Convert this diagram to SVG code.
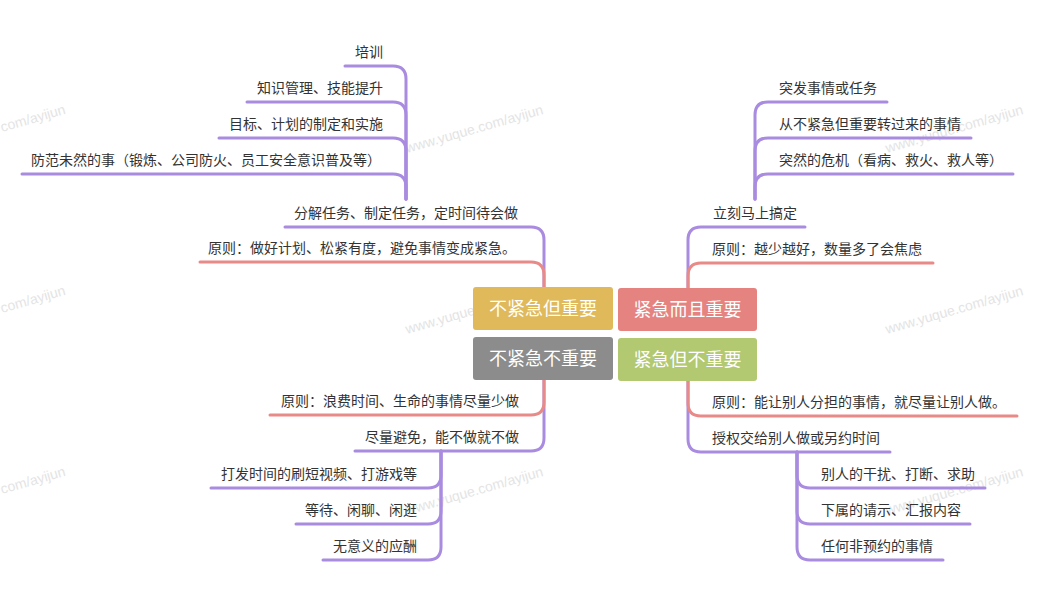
<svg xmlns="http://www.w3.org/2000/svg" width="1044" height="611" viewBox="0 0 1044 611">
<style>
.t{font-family:"Noto Sans CJK SC","Noto Sans",sans-serif;font-size:14px;fill:#333333}
.c{font-family:"Noto Sans CJK SC","Noto Sans",sans-serif;font-size:18px;fill:#ffffff;text-anchor:middle}
.w{font-family:"Liberation Sans",sans-serif;font-size:14px;fill:#d9d9d9;opacity:0.7}
.p{fill:none;stroke:#a98be0;stroke-width:3;stroke-linecap:round}
.r{fill:none;stroke:#e88a88;stroke-width:3;stroke-linecap:round}
</style>
<rect width="1044" height="611" fill="#ffffff"/>
<g id="watermarks">
<text class="w" x="2" y="132" transform="rotate(-16 2 132)">com/ayijun</text>
<text class="w" x="407" y="153" transform="rotate(-16 407 153)">www.yuque.com/ayijun</text>
<text class="w" x="887" y="153" transform="rotate(-16 887 153)">www.yuque.com/ayijun</text>
<text class="w" x="2" y="313" transform="rotate(-16 2 313)">com/ayijun</text>
<text class="w" x="407" y="334" transform="rotate(-16 407 334)">www.yuque.com/ayijun</text>
<text class="w" x="887" y="334" transform="rotate(-16 887 334)">www.yuque.com/ayijun</text>
<text class="w" x="2" y="494" transform="rotate(-16 2 494)">com/ayijun</text>
<text class="w" x="407" y="515" transform="rotate(-16 407 515)">www.yuque.com/ayijun</text>
<text class="w" x="887" y="515" transform="rotate(-16 887 515)">www.yuque.com/ayijun</text>
</g>
<g id="connectors">
<path class="p" d="M544 287V240Q544 227 531 227H285"/>
<path class="r" d="M544 287V275Q544 262 531 262H200"/>
<path class="p" d="M406 199V79Q406 66 393 66H345"/>
<path class="p" d="M406 199V115Q406 102 393 102H247"/>
<path class="p" d="M406 199V151Q406 138 393 138H219"/>
<path class="p" d="M406 199V187Q406 174 393 174H22"/>
<path class="p" d="M688 288V240Q688 227 701 227H805"/>
<path class="r" d="M688 288V276Q688 263 701 263H933"/>
<path class="p" d="M755 199V115Q755 102 768 102H887"/>
<path class="p" d="M755 199V151Q755 138 768 138H971"/>
<path class="p" d="M755 199V187Q755 174 768 174H1013"/>
<path class="p" d="M544 380V438Q544 451 531 451H355"/>
<path class="r" d="M544 380V402Q544 415 531 415H270"/>
<path class="p" d="M441 451V475Q441 488 428 488H211"/>
<path class="p" d="M441 451V511Q441 524 428 524H296"/>
<path class="p" d="M441 451V547Q441 560 428 560H323"/>
<path class="p" d="M688 381V439Q688 452 701 452H890"/>
<path class="r" d="M688 381V403Q688 416 701 416H1017"/>
<path class="p" d="M797 452V475Q797 488 810 488H985"/>
<path class="p" d="M797 452V511Q797 524 810 524H970"/>
<path class="p" d="M797 452V547Q797 560 810 560H943"/>
</g>
<g id="q-important-not-urgent"><rect x="473" y="287" width="140" height="43" rx="3" fill="#e0b95b"/><text class="c" x="543" y="315">不紧急但重要</text></g>
<g id="q-urgent-important"><rect x="618" y="288" width="139" height="43" rx="3" fill="#e58380"/><text class="c" x="687.5" y="316">紧急而且重要</text></g>
<g id="q-neither"><rect x="473" y="337" width="140" height="43" rx="3" fill="#8c8c8c"/><text class="c" x="543" y="365">不紧急不重要</text></g>
<g id="q-urgent-not-important"><rect x="618" y="338" width="139" height="43" rx="3" fill="#b2c871"/><text class="c" x="687.5" y="366">紧急但不重要</text></g>
<g id="n-tl-1"><text class="t" x="294" y="218">分解任务、制定任务，定时间待会做</text></g>
<g id="n-tl-2"><text class="t" x="208" y="253">原则：做好计划、松紧有度，避免事情变成紧急。</text></g>
<g id="n-tl-1-1"><text class="t" x="355" y="57">培训</text></g>
<g id="n-tl-1-2"><text class="t" x="257" y="93">知识管理、技能提升</text></g>
<g id="n-tl-1-3"><text class="t" x="229" y="129">目标、计划的制定和实施</text></g>
<g id="n-tl-1-4"><text class="t" x="31" y="165">防范未然的事（锻炼、公司防火、员工安全意识普及等）</text></g>
<g id="n-tr-1"><text class="t" x="713" y="218">立刻马上搞定</text></g>
<g id="n-tr-2"><text class="t" x="712" y="254">原则：越少越好，数量多了会焦虑</text></g>
<g id="n-tr-1-1"><text class="t" x="779" y="93">突发事情或任务</text></g>
<g id="n-tr-1-2"><text class="t" x="779" y="129">从不紧急但重要转过来的事情</text></g>
<g id="n-tr-1-3"><text class="t" x="779" y="165">突然的危机（看病、救火、救人等）</text></g>
<g id="n-bl-1"><text class="t" x="281" y="406">原则：浪费时间、生命的事情尽量少做</text></g>
<g id="n-bl-2"><text class="t" x="365" y="442">尽量避免，能不做就不做</text></g>
<g id="n-bl-2-1"><text class="t" x="221" y="479">打发时间的刷短视频、打游戏等</text></g>
<g id="n-bl-2-2"><text class="t" x="305" y="515">等待、闲聊、闲逛</text></g>
<g id="n-bl-2-3"><text class="t" x="333" y="551">无意义的应酬</text></g>
<g id="n-br-1"><text class="t" x="712" y="407">原则：能让别人分担的事情，就尽量让别人做。</text></g>
<g id="n-br-2"><text class="t" x="712" y="443">授权交给别人做或另约时间</text></g>
<g id="n-br-2-1"><text class="t" x="821" y="479">别人的干扰、打断、求助</text></g>
<g id="n-br-2-2"><text class="t" x="821" y="515">下属的请示、汇报内容</text></g>
<g id="n-br-2-3"><text class="t" x="821" y="551">任何非预约的事情</text></g>
</svg>
